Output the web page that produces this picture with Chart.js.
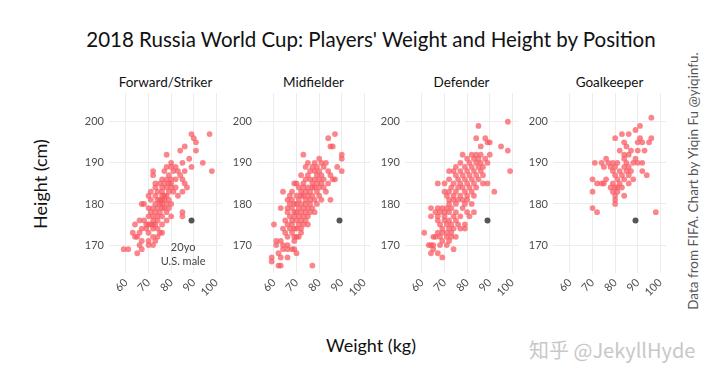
<!DOCTYPE html>
<html>
<head>
<meta charset="utf-8">
<script src="https://cdn.jsdelivr.net/npm/chart.js@4.4.1/dist/chart.umd.min.js"></script>
<style>
  body { margin: 0; background: #fff; }
  #wrap { position: relative; width: 720px; height: 384px; overflow: hidden; font-family: Lato, "Open Sans", sans-serif; color: #111; }
  .txt { position: absolute; white-space: nowrap; }
  canvas { position: absolute; }
</style>
</head>
<body>
<div id="wrap">
  <div class="txt" id="title" style="left:0;width:742px;top:27px;text-align:center;font-size:20.5px;">2018 Russia World Cup: Players' Weight and Height by Position</div>
  <div class="txt" style="left:0;width:742px;top:334px;text-align:center;font-size:18px;">Weight (kg)</div>
  <div class="txt" style="left:-10px;top:173px;width:100px;text-align:center;font-size:18px;transform:rotate(-90deg);">Height (cm)</div>
  <div class="txt" style="left:543px;top:173px;width:300px;text-align:center;font-size:13.5px;color:#555;transform:rotate(-90deg);">Data from FIFA. Chart by Yiqin Fu @yiqinfu.</div>
  <div class="txt" style="left:529px;top:335px;font-size:20px;color:#c8c8c8;font-family:'Noto Sans CJK SC', sans-serif;">知乎 @JekyllHyde</div>
</div>
<script>
// facet names
const positions = ['Forward/Striker', 'Midfielder', 'Defender', 'Goalkeeper'];

// tick values / labels
const xTicks = [60, 70, 80, 90, 100];
const yTicks = [170, 180, 190, 200];

// [weight kg, height cm]
const forward = [
  [89,197],[97,197],[90,196],[91,195],[86,194],[84,193],[91,193],[78,192],[88,191],
  [80,190],[85,190],[94,190],[78,189],[80,189],[82,189],[89,189],
  [72,188],[77,188],[81,188],[83,188],[86,188],[98,188],[72,187],[79,187],[84,187],
  [76,186],[78,186],[80,186],[82,186],[85,186],[73,185],[75,185],[77,185],[79,185],[80,185],[86,185],
  [73,184],[76,184],[78,184],[80,184],[82,184],[87,184],[71,183],[74,183],[76,183],[79,183],[81,183],[85,183],
  [70,182],[73,182],[76,182],[77,182],[78,182],[83,182],[71,181],[74,181],[75,181],[76,181],[77,181],[79,181],
  [67,180],[68,180],[73,180],[75,180],[76,180],[78,180],[80,180],[70,179],[72,179],[74,179],[76,179],[77,179],[79,179],
  [71,178],[73,178],[75,178],[78,178],[85,178],[70,177],[72,177],[74,177],[76,177],[80,177],[85,177],
  [66,176],[68,176],[72,176],[74,176],[78,176],[64,175],[69,175],[70,175],[71,175],[72,175],[73,175],[76,175],
  [67,174],[69,174],[72,174],[74,174],[63,173],[66,173],[70,173],[75,173],[76,173],
  [64,172],[65,172],[72,172],[74,172],[67,171],[70,171],[73,171],[66,170],[70,170],[72,170],
  [59,169],[61,169],[67,169],[65,168]
];
const midfielder = [
  [87,197],[84,196],[85,194],[86,194],[73,192],[90,192],[80,191],[90,191],
  [75,190],[78,190],[81,190],[83,190],[74,189],[77,189],[79,189],[82,189],[88,189],
  [76,188],[78,188],[80,188],[84,188],[90,188],[72,187],[75,187],[79,187],[81,187],[85,187],
  [74,186],[76,186],[78,186],[80,186],[82,186],[86,186],[87,186],[69,185],[70,185],[73,185],[77,185],[79,185],[81,185],[84,185],
  [71,184],[73,184],[75,184],[77,184],[78,184],[80,184],[82,184],[64,183],[68,183],[72,183],[74,183],[76,183],[79,183],[83,183],
  [67,182],[70,182],[72,182],[73,182],[75,182],[77,182],[80,182],[66,181],[68,181],[71,181],[74,181],[76,181],[78,181],[81,181],[85,181],
  [67,180],[69,180],[70,180],[72,180],[74,180],[76,180],[79,180],[63,179],[66,179],[68,179],[71,179],[73,179],[75,179],[77,179],
  [66,178],[69,178],[70,178],[72,178],[74,178],[76,178],[78,178],[67,177],[69,177],[71,177],[73,177],[75,177],
  [65,176],[68,176],[70,176],[72,176],[74,176],[60,175],[66,175],[68,175],[71,175],[73,175],[75,175],
  [64,174],[67,174],[69,174],[70,174],[72,174],[65,173],[68,173],[72,173],[66,172],[69,172],[70,172],[71,172],
  [61,171],[63,171],[69,171],[61,170],[64,170],[66,170],[64,169],[66,169],[68,169],[69,169],
  [62,168],[70,168],[59,167],[63,167],[66,167],[59,166],[62,165],[63,165],[77,165]
];
const defender = [
  [98,200],[85,199],[84,196],[88,196],[89,195],[90,195],[86,194],[95,194],[98,193],
  [78,192],[82,192],[84,192],[86,192],[90,192],[80,191],[83,191],[85,191],[88,191],
  [77,190],[81,190],[84,190],[86,190],[89,190],[75,189],[79,189],[82,189],[85,189],[87,189],
  [72,188],[74,188],[77,188],[80,188],[83,188],[86,188],[99,188],[75,187],[78,187],[81,187],[84,187],[87,187],
  [72,186],[76,186],[79,186],[82,186],[85,186],[67,185],[70,185],[74,185],[77,185],[80,185],[83,185],[87,185],[89,185],
  [73,184],[76,184],[78,184],[81,184],[84,184],[70,183],[72,183],[75,183],[79,183],[82,183],[92,183],
  [71,182],[74,182],[77,182],[80,182],[83,182],[72,181],[74,181],[76,181],[78,181],[80,181],
  [72,180],[75,180],[79,180],[82,180],[64,179],[67,179],[69,179],[71,179],[73,179],[78,179],
  [66,178],[68,178],[70,178],[72,178],[75,178],[80,178],[83,178],[64,177],[67,177],[70,177],[74,177],[77,177],[81,177],
  [67,176],[70,176],[72,176],[75,176],[68,175],[71,175],[73,175],[76,175],[79,175],
  [69,174],[72,174],[74,174],[77,174],[79,174],[61,173],[67,173],[69,173],[71,173],[73,173],
  [65,172],[66,172],[68,172],[71,172],[73,172],[75,172],[69,171],[72,171],
  [63,170],[64,170],[65,170],[68,170],[71,170],[65,169],[74,169],[64,168],[67,168],[69,167]
];
const goalkeeper = [
  [96,201],[91,199],[89,198],[83,197],[86,197],[80,196],[91,196],[96,196],
  [84,195],[90,195],[92,195],[95,195],[85,194],[82,193],[87,193],[90,193],[93,193],[84,192],[86,192],
  [76,191],[84,191],[89,191],[71,190],[74,190],[77,190],[79,190],[81,190],[85,190],[88,190],[90,190],[92,190],
  [75,189],[78,189],[80,189],[84,189],[86,189],[79,188],[82,188],[85,188],[87,188],[92,188],
  [80,187],[83,187],[86,187],[94,187],[70,186],[76,186],[81,186],[84,186],[88,186],
  [72,185],[74,185],[75,185],[79,185],[82,185],[86,185],[78,184],[80,184],[81,184],[83,184],
  [70,183],[79,183],[81,183],[80,182],[84,182],[80,181],[80,180],[70,179],[72,178],[98,178]
];
const series = [forward, midfielder, defender, goalkeeper];

// the reference person shown in every panel
const usMale = [89, 176];

const panelLeft = [109, 257, 405, 553];

const annotate = {
  id: 'annotate',
  afterDatasetsDraw(chart, args, opts) {
    if (!opts.show) return;
    const ctx = chart.ctx;
    const x = chart.scales.x.getPixelForValue(85.3);
    ctx.save();
    ctx.fillStyle = '#444';
    ctx.font = '11px Lato';
    ctx.textAlign = 'center';
    ctx.textBaseline = 'middle';
    ctx.fillText('20yo', x, chart.scales.y.getPixelForValue(169.5));
    ctx.fillText('U.S. male', x, chart.scales.y.getPixelForValue(166.1));
    ctx.restore();
  }
};

const wrap = document.getElementById('wrap');

positions.forEach((name, i) => {
  const lab = document.createElement('div');
  lab.className = 'txt';
  lab.style.left = (panelLeft[i] - 20) + 'px';
  lab.style.width = '153px';
  lab.style.top = '74px';
  lab.style.textAlign = 'center';
  lab.style.fontSize = '13.5px';
  lab.textContent = name;
  wrap.append(lab);

  const cv = document.createElement('canvas');
  cv.width = 158;
  cv.height = 220;
  cv.style.left = (panelLeft[i] - 40) + 'px';
  cv.style.top = '88px';
  wrap.append(cv);

  new Chart(cv, {
    type: 'scatter',
    data: {
      datasets: [
        {
          data: series[i].map(p => ({ x: p[0], y: p[1] })),
          backgroundColor: 'rgba(248, 88, 96, 0.72)',
          borderWidth: 0,
          pointRadius: 2.9
        },
        {
          data: [{ x: usMale[0], y: usMale[1] }],
          backgroundColor: '#555555',
          borderWidth: 0,
          pointRadius: 3
        }
      ]
    },
    options: {
      responsive: false,
      animation: false,
      devicePixelRatio: 1,
      layout: { padding: { top: 5, right: 5, left: 0, bottom: 0 } },
      plugins: {
        legend: { display: false },
        tooltip: { enabled: false },
        annotate: { show: i === 0 }
      },
      scales: {
        x: {
          type: 'linear',
          min: 52.5,
          max: 102.5,
          afterBuildTicks: s => { s.ticks = xTicks.map(v => ({ value: v })); },
          afterFit: s => { s.height = 35; s.paddingLeft = 0; s.paddingRight = 0; },
          grid: { color: '#ececec', drawTicks: false },
          border: { display: false },
          ticks: { minRotation: 45, maxRotation: 45, padding: 3, color: '#4d4d4d', font: { size: 11, family: 'Lato' } }
        },
        y: {
          min: 163.2,
          max: 207,
          afterBuildTicks: s => { s.ticks = yTicks.map(v => ({ value: v })); },
          afterFit: s => { s.width = 40; s.paddingTop = 0; s.paddingBottom = 0; },
          grid: { color: '#ececec', drawTicks: false },
          border: { display: false },
          ticks: { padding: 5, color: '#4d4d4d', font: { size: 11, family: 'Lato' } }
        }
      }
    },
    plugins: [annotate]
  });
});
</script>
</body>
</html>
